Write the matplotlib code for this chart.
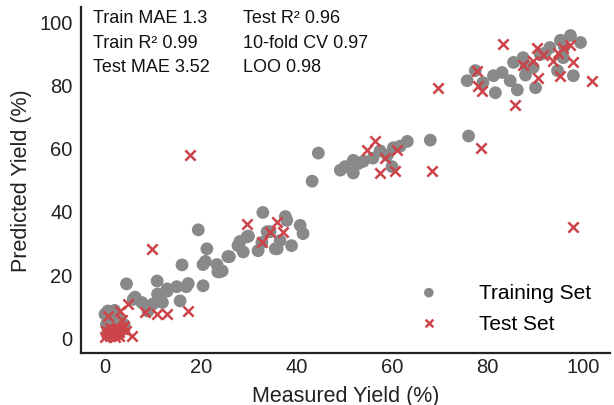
import matplotlib
matplotlib.use('Agg')
import matplotlib.pyplot as plt

# ── Data (measured %, predicted %) ───────────────────────────────────────────

train_x = [
    0.5, 1.0, 1.5, 2.0, 3.0, 0.3, 0.6, 2.0, 0.0, 3.0, 4.0, 1.2, 2.5,
    4.5, 5.9, 6.3, 7.7, 9.0, 10.0, 11.0, 10.9, 12.0, 13.0, 13.0, 15.0, 15.7,
    16.1, 17.0, 17.4, 19.5, 20.5, 20.5, 21.3, 21.0, 23.4, 23.6, 24.0, 24.5,
    25.7, 26.0, 27.8, 28.2, 28.9, 29.7, 30.0, 32.0, 32.8, 33.0, 33.9, 34.5,
    35.6, 36.0, 36.6, 37.7, 38.0, 39.0, 40.8, 41.4,
    43.3, 44.6, 49.2, 50.2, 51.9, 51.9, 53.0, 54.0, 56.0, 57.5, 59.0, 60.0,
    60.3, 61.7, 63.2, 68.0, 76.0,
    75.7, 77.4, 79.0, 81.2, 81.6, 83.0, 84.7, 85.4, 86.2, 87.4, 87.9, 88.0,
    89.5, 90.0, 91.0, 92.0, 93.0, 94.6, 95.2, 95.8, 96.0, 97.3, 97.9, 99.4,
]
train_y = [
    1.0, 2.0, 0.5, 3.0, 1.5, 4.0, 8.3, 8.5, 7.3, 6.0, 4.0, 5.0, 2.5,
    16.9, 12.0, 12.7, 11.0, 8.3, 10.5, 13.7, 17.8, 11.0, 14.6, 15.3, 16.0, 11.5,
    22.9, 16.0, 17.0, 34.0, 16.3, 23.0, 28.0, 24.0, 23.0, 20.7, 20.7, 21.0,
    25.5, 25.5, 29.0, 30.3, 27.0, 31.8, 32.0, 27.4, 30.0, 39.5, 33.4, 33.4,
    28.0, 28.0, 30.6, 38.2, 37.0, 29.0, 35.4, 32.8,
    49.4, 58.3, 52.9, 54.0, 56.0, 52.0, 55.0, 55.7, 56.7, 59.0, 57.6, 54.0,
    60.0, 60.5, 62.0, 62.4, 63.7,
    81.2, 84.4, 80.6, 82.8, 77.4, 83.8, 81.2, 87.0, 78.3, 88.5, 83.0, 86.0,
    85.4, 79.0, 89.5, 90.0, 91.7, 84.4, 94.0, 88.5, 92.0, 95.5, 82.8, 93.3,
]

test_x = [
    0.0, 0.5, 1.0, 1.5, 2.0, 2.5, 3.0, 3.5, 0.2, 1.0, 2.0, 3.0, 4.0, 4.5,
    0.8, 1.8, 0.7, 3.2, 4.9, 3.5, 5.6, 8.4, 10.9, 13.0, 17.4, 9.8, 17.8,
    29.7, 32.8, 34.5, 36.0, 37.2,
    54.8, 56.5, 57.5, 58.6, 60.7, 61.0, 68.4, 69.7,
    77.8, 78.0, 78.9, 78.5, 83.3, 85.8, 87.4, 89.5, 90.4, 90.6, 91.6, 93.7,
    94.6, 95.2, 95.8, 97.3, 97.9, 97.9, 101.9,
]
test_y = [
    0.0, 1.0, 0.5, 2.0, 1.0, 3.0, 1.5, 2.5, 2.0, 3.0, 0.0, 0.5, 3.5, 2.0,
    1.5, 2.5, 6.8, 8.3, 10.5, 5.5, 0.3, 8.0, 7.3, 7.3, 8.3, 28.0, 57.6,
    36.0, 30.3, 33.4, 36.6, 33.4,
    59.2, 62.0, 52.0, 56.7, 52.5, 59.2, 52.5, 79.0,
    84.4, 79.6, 78.0, 59.9, 92.7, 73.6, 86.3, 87.6, 91.7, 82.2, 89.5, 87.6,
    90.0, 82.8, 91.7, 92.4, 87.0, 35.0, 81.2,
]

stats_left = ['Train MAE 1.3', 'Train R\u00b2 0.99', 'Test MAE 3.52']
stats_right = ['Test R\u00b2 0.96', '10-fold CV 0.97', 'LOO 0.98']

# ── Plot ──────────────────────────────────────────────────────────────────────
plt.rcParams['font.family'] = ['Liberation Sans', 'DejaVu Sans']

fig = plt.figure(figsize=(6.14, 4.06), dpi=100)
ax = fig.add_axes([0.132, 0.128, 0.861, 0.852])

gray = '#898989'
red = '#cc4449'

ax.scatter(train_x, train_y, s=85, color=gray, edgecolors='none', label='Training Set', zorder=2)
ax.scatter(test_x, test_y, s=55, marker='x', color=red, linewidths=1.8, label='Test Set', zorder=3)

ax.set_xlim(-5, 105.5)
ax.set_ylim(-5, 104.5)
ax.set_xticks([0, 20, 40, 60, 80, 100])
ax.set_yticks([0, 20, 40, 60, 80, 100])
ax.tick_params(axis='x', length=0, labelsize=14.5, pad=3, colors='#222222')
ax.tick_params(axis='y', length=0, labelsize=14.5, pad=6, colors='#222222')

for side in ['top', 'right']:
    ax.spines[side].set_visible(False)
for side in ['left', 'bottom']:
    ax.spines[side].set_linewidth(1.6)
    ax.spines[side].set_color('#222222')

ax.set_xlabel('Measured Yield (%)', fontsize=15.5, color='#222222', labelpad=6)
ax.set_ylabel('Predicted Yield (%)', fontsize=15.5, color='#222222', labelpad=5)

ax.text(0.022, 0.995, '\n'.join(stats_left), transform=ax.transAxes,
        fontsize=13, va='top', ha='left', linespacing=1.6, color='#111111')
ax.text(0.306, 0.995, '\n'.join(stats_right), transform=ax.transAxes,
        fontsize=13, va='top', ha='left', linespacing=1.6, color='#111111')

ax.legend(loc='lower right', bbox_to_anchor=(1.0, 0.005), frameon=False,
          fontsize=15, markerscale=0.75, handletextpad=1.4, labelspacing=0.55)

plt.savefig('out.png', dpi=100)
